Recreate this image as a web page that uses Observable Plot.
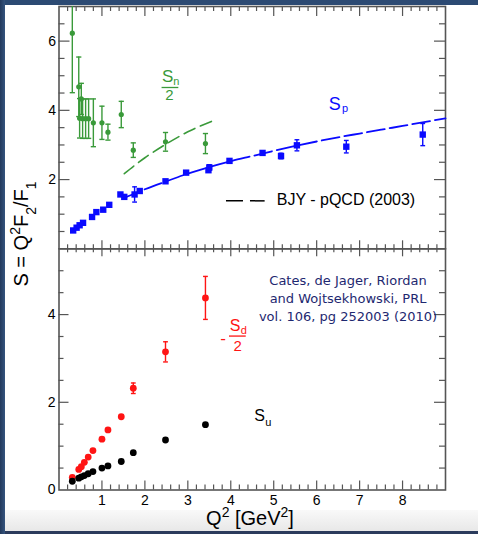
<!DOCTYPE html>
<html><head><meta charset="utf-8">
<script src="https://cdn.jsdelivr.net/npm/d3@7"></script>
<script src="https://cdn.jsdelivr.net/npm/@observablehq/plot@0.6"></script>
<style>
html,body{margin:0;padding:0;background:#fff;overflow:hidden;}
#wrap{position:relative;width:478px;height:534px;overflow:hidden;background:#fff;font-family:"Liberation Sans",Arial,sans-serif;}
#upper{position:absolute;left:0;top:0;}
#lower{position:absolute;left:0;top:240px;}
#topbar{position:absolute;left:0;top:0;width:478px;height:5px;background:#2c4a73;}
#leftbar{position:absolute;left:0;top:0;width:5px;height:534px;background:linear-gradient(to right,#23395c,#35547e);}
#band{position:absolute;left:0;top:510px;width:478px;height:21px;background:linear-gradient(#f9f9f9,#e8e8e8);}
#botbar{position:absolute;left:0;top:531px;width:478px;height:3px;background:#2b3b5c;}
#titles{position:absolute;left:0;top:0;pointer-events:none;}
</style></head>
<body><div id="wrap">
<div id="band"></div><div id="botbar"></div>
<div id="upper"></div><div id="lower"></div>
<svg id="titles" width="478" height="534" font-family="Liberation Sans, Arial, sans-serif">
  <text transform="translate(28,234) rotate(-90)" text-anchor="middle" font-size="20" fill="#000">S = Q<tspan baseline-shift="super" font-size="14">2</tspan>F<tspan baseline-shift="sub" font-size="14">2</tspan>/F<tspan baseline-shift="sub" font-size="14">1</tspan></text>
  <text x="250" y="525" text-anchor="middle" font-size="20" fill="#000">Q<tspan baseline-shift="super" font-size="14">2</tspan> [GeV<tspan baseline-shift="super" font-size="14">2</tspan>]</text>
</svg>
<div id="topbar"></div><div id="leftbar"></div>
</div>
<script>
// ---------- data ----------
// S_n / 2 (green circles)
const qN = [0.31, 0.46, 0.52, 0.48, 0.55, 0.62, 0.69, 0.80, 1.00, 1.14, 1.45, 1.73, 2.48, 3.41];
const sN = [6.23, 4.68, 4.33, 3.77, 3.76, 3.76, 3.76, 3.64, 3.64, 3.37, 3.88, 2.85, 3.09, 3.04];
const eN = [1.72, 0.86, 0.45, 0.57, 0.57, 0.57, 0.57, 0.69, 0.48, 0.23, 0.38, 0.21, 0.27, 0.29];
// S_p (blue squares)
const qP = [0.33, 0.41, 0.48, 0.56, 0.77, 0.87, 1.03, 1.17, 1.43, 1.52, 1.76, 1.88, 2.48, 2.96, 3.48, 3.50, 3.97, 4.74, 5.17, 5.54, 6.69, 8.47];
const sP = [0.53, 0.61, 0.68, 0.75, 0.92, 1.06, 1.13, 1.27, 1.57, 1.50, 1.57, 1.67, 1.95, 2.20, 2.27, 2.35, 2.54, 2.77, 2.68, 2.99, 2.95, 3.30];
const eP = [0, 0, 0, 0, 0, 0, 0, 0, 0, 0, 0.22, 0, 0, 0, 0.05, 0.08, 0, 0.03, 0.08, 0.16, 0.18, 0.32];
// BJY - pQCD curves
const qBJYn = [1.52, 2.0, 2.5, 3.0, 3.59];
const sBJYn = [2.17, 2.63, 3.03, 3.38, 3.70];
const qBJYp = [1.5, 2.0, 2.5, 3.0, 3.5, 4.0, 4.5, 5.0, 5.5, 6.0, 6.5, 7.0, 7.5, 8.0, 8.5, 9.0];
const sBJYp = [1.46, 1.72, 1.95, 2.17, 2.36, 2.53, 2.68, 2.83, 2.97, 3.10, 3.22, 3.33, 3.44, 3.55, 3.66, 3.77];
// lower panel: -S_d/2 (red) and S_u (black)
const qD = [0.31, 0.46, 0.52, 0.59, 0.68, 0.79, 1.00, 1.14, 1.45, 1.73, 2.48, 3.41];
const sD = [0.29, 0.47, 0.53, 0.63, 0.75, 0.90, 1.16, 1.37, 1.67, 2.32, 3.15, 4.38];
const eD = [0, 0, 0, 0, 0, 0, 0, 0, 0, 0.12, 0.23, 0.49];
const sU = [0.20, 0.27, 0.30, 0.33, 0.37, 0.42, 0.50, 0.55, 0.65, 0.85, 1.14, 1.49];
// tick labels
const xTickLabels = [1, 2, 3, 4, 5, 6, 7, 8];
const yUpperLabels = [2, 4, 6];
const yLowerLabels = [0, 2, 4];
const legendText = "BJY - pQCD (2003)";
const citeText = "Cates, de Jager, Riordan\nand Wojtsekhowski, PRL\nvol. 106, pg 252003 (2010)";

// ---------- build tables ----------
const green = qN.map((q, i) => ({q, v: sN[i], e: eN[i]}));
const blue = qP.map((q, i) => ({q, v: sP[i], e: eP[i]}));
const red = qD.map((q, i) => ({q, v: sD[i], e: eD[i]}));
const black = qD.map((q, i) => ({q, v: sU[i]}));
const bjyN = qBJYn.map((q, i) => ({q, v: sBJYn[i]}));
const bjyP = qBJYp.map((q, i) => ({q, v: sBJYp[i]}));

const GREEN = "#3a9a3a", BLUE = "#0a0aff", RED = "#ff1414", FRAME = "#555";
const FONT = "Liberation Sans, Arial, sans-serif";
const capSymbol = {draw(ctx, size) { const r = Math.sqrt(size / Math.PI); ctx.moveTo(-r, 0); ctx.lineTo(r, 0); }};
const intFmt = d => String(d);

const xMajor = d3.range(1, 9);
const xMinor = d3.range(1, 45).map(i => i / 5).filter(v => v % 1 !== 0);

function frameTicks(innerW, innerH, yMajor, yMinor, L) {
  const s = {stroke: FRAME, strokeWidth: 1.2};
  return [
    Plot.ruleX(xMinor, {x: d => d, insetTop: innerH - L.bottom[1], ...s}),
    Plot.ruleX(xMajor, {x: d => d, insetTop: innerH - L.bottom[0], ...s}),
    Plot.ruleX(xMinor, {x: d => d, insetBottom: innerH - L.top[1], ...s}),
    Plot.ruleX(xMajor, {x: d => d, insetBottom: innerH - L.top[0], ...s}),
    Plot.ruleY(yMinor, {y: d => d, insetRight: innerW - L.left[1], ...s}),
    Plot.ruleY(yMajor, {y: d => d, insetRight: innerW - L.left[0], ...s}),
    Plot.ruleY(yMinor, {y: d => d, insetLeft: innerW - L.right[1], ...s}),
    Plot.ruleY(yMajor, {y: d => d, insetLeft: innerW - L.right[0], ...s}),
    Plot.frame({stroke: FRAME, strokeWidth: 1.6})
  ];
}

function errBars(data, color, yMax, capR) {
  const withErr = data.filter(d => d.e > 0);
  return [
    Plot.ruleX(withErr, {x: "q", y1: d => d.v - d.e, y2: d => Math.min(d.v + d.e, yMax), stroke: color, strokeWidth: 1.4}),
    Plot.dot(withErr.filter(d => d.v + d.e <= yMax), {x: "q", y: d => d.v + d.e, symbol: capSymbol, r: capR, fill: "none", stroke: color, strokeWidth: 1.4}),
    Plot.dot(withErr, {x: "q", y: d => d.v - d.e, symbol: capSymbol, r: capR, fill: "none", stroke: color, strokeWidth: 1.4})
  ];
}

// ---------- upper panel ----------
const W = 478;
const uH = 250, uMT = 6, uMB = 1.7, mL = 58.5, mR = 33;
const uInnerH = uH - uMT - uMB, innerW = W - mL - mR;
const upper = Plot.plot({
  width: W, height: uH,
  marginLeft: mL, marginRight: mR, marginTop: uMT, marginBottom: uMB,
  style: {fontFamily: FONT, fontSize: "14px", background: "none", color: "#000", overflow: "visible"},
  x: {domain: [0, 9], axis: null},
  y: {domain: [0, 7], ticks: yUpperLabels, tickFormat: intFmt, tickSize: 0, tickPadding: 3, label: null},
  marks: [
    ...frameTicks(innerW, uInnerH, [2, 4, 6], [0.5, 1, 1.5, 2.5, 3, 3.5, 4.5, 5, 5.5, 6.5],
      {bottom: [8, 4], top: [10, 5], left: [11, 6], right: [11, 6]}),
    Plot.line(bjyN, {x: "q", y: "v", stroke: GREEN, strokeWidth: 1.6, strokeDasharray: "12,6", curve: "monotone-x"}),
    Plot.line(bjyP, {x: "q", y: "v", stroke: BLUE, strokeWidth: 1.8, strokeDasharray: "18,5", curve: "monotone-x"}),
    ...errBars(green, GREEN, 7, 2.6),
    Plot.dot(green, {x: "q", y: "v", r: 2.6, fill: GREEN}),
    ...errBars(blue, BLUE, 7, 2.4),
    Plot.dot(blue, {x: "q", y: "v", symbol: "square", r: 3.6, fill: BLUE}),
    // labels
    Plot.text(["S"], {x: 2.53, y: 4.83, text: d => d, fill: GREEN, fontSize: 17, textAnchor: "middle", lineAnchor: "bottom"}),
    Plot.text(["n"], {x: 2.66, y: 4.72, text: d => d, fill: GREEN, fontSize: 11, textAnchor: "start", lineAnchor: "bottom"}),
    Plot.ruleY([4.66], {x1: 2.40, x2: 2.79, y: d => d, stroke: GREEN, strokeWidth: 1.3}),
    Plot.text(["2"], {x: 2.57, y: 4.30, text: d => d, fill: GREEN, fontSize: 15, textAnchor: "middle", lineAnchor: "bottom"}),
    Plot.text(["S"], {x: 6.42, y: 4.01, text: d => d, fill: BLUE, fontSize: 18, textAnchor: "middle", lineAnchor: "bottom"}),
    Plot.text(["p"], {x: 6.59, y: 3.95, text: d => d, fill: BLUE, fontSize: 11, textAnchor: "start", lineAnchor: "bottom"}),
    Plot.ruleY([1.385], {x1: 3.9, x2: 4.8, y: d => d, stroke: "#000", strokeWidth: 1.5, strokeDasharray: "17,7"}),
    Plot.text([legendText], {x: 5.07, y: 1.27, text: d => d, fill: "#000", fontSize: 16, textAnchor: "start", lineAnchor: "bottom"})
  ]
});
document.getElementById("upper").appendChild(upper);

// ---------- lower panel ----------
const lH = 294, lMT = 8.3, lMB = 44.5;
const lInnerH = lH - lMT - lMB;
const lower = Plot.plot({
  width: W, height: lH,
  marginLeft: mL, marginRight: mR, marginTop: lMT, marginBottom: lMB,
  style: {fontFamily: FONT, fontSize: "14px", background: "none", color: "#000", overflow: "visible"},
  x: {domain: [0, 9], ticks: xTickLabels, tickFormat: intFmt, tickSize: 0, tickPadding: 5.5, label: null},
  y: {domain: [0, 5.5], ticks: yLowerLabels, tickFormat: intFmt, tickSize: 0, tickPadding: 3.5, label: null},
  marks: [
    ...frameTicks(innerW, lInnerH, [2, 4], [0.5, 1, 1.5, 2.5, 3, 3.5, 4.5, 5],
      {bottom: [9, 5], top: [8, 4], left: [10, 5], right: [11, 6]}),
    ...errBars(red, RED, 5.5, 2.4),
    Plot.dot(red, {x: "q", y: "v", r: 3.4, fill: RED}),
    Plot.dot(black, {x: "q", y: "v", r: 3.4, fill: "#000"}),
    Plot.text(["-"], {x: 3.82, y: 3.45, text: d => d, fill: RED, fontSize: 17, textAnchor: "middle", lineAnchor: "middle"}),
    Plot.text(["S"], {x: 4.10, y: 3.625, text: d => d, fill: RED, fontSize: 16, textAnchor: "middle", lineAnchor: "bottom"}),
    Plot.text(["d"], {x: 4.23, y: 3.56, text: d => d, fill: RED, fontSize: 11, textAnchor: "start", lineAnchor: "bottom"}),
    Plot.ruleY([3.51], {x1: 3.97, x2: 4.36, y: d => d, stroke: RED, strokeWidth: 1.3}),
    Plot.text(["2"], {x: 4.16, y: 3.17, text: d => d, fill: RED, fontSize: 15, textAnchor: "middle", lineAnchor: "bottom"}),
    Plot.text(["S"], {x: 4.67, y: 1.58, text: d => d, fill: "#000", fontSize: 16, textAnchor: "middle", lineAnchor: "bottom"}),
    Plot.text(["u"], {x: 4.80, y: 1.47, text: d => d, fill: "#000", fontSize: 11, textAnchor: "start", lineAnchor: "bottom"}),
    Plot.text([citeText], {x: 6.73, y: 4.40, text: d => d, fill: "#1e2870", fontSize: 13, fontFamily: "'Comic Sans MS', 'DejaVu Sans', sans-serif", textAnchor: "middle", lineAnchor: "middle", lineHeight: 1.38})
  ]
});
document.getElementById("lower").appendChild(lower);
</script>
</body></html>
